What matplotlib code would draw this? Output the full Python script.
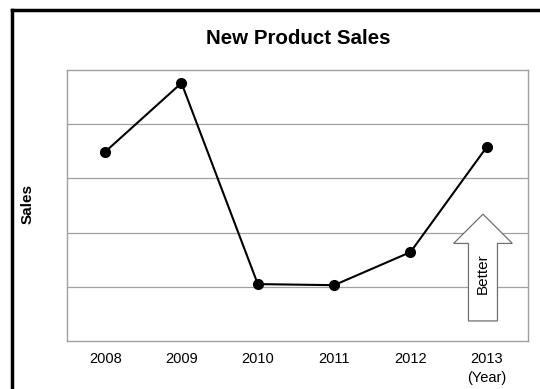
import matplotlib
matplotlib.use("Agg")
import matplotlib.pyplot as plt
import matplotlib.lines as mlines
from matplotlib.patches import FancyArrow

years = [2008, 2009, 2010, 2011, 2012, 2013]
sales = [3.49, 4.76, 1.05, 1.03, 1.64, 3.58]
tick_labels = ['2008', '2009', '2010', '2011', '2012', '2013\n(Year)']

plt.rcParams['font.family'] = ['Liberation Sans', 'DejaVu Sans']

W, H = 540, 389
fig = plt.figure(figsize=(W / 100, H / 100), dpi=100)
ax = fig.add_axes([67 / W, 1 - 341 / H, 461 / W, 271 / H])

ax.plot(years, sales, color='black', lw=1.5, marker='o', markersize=7, zorder=3)

ax.set_xlim(2007.5, 2013.54)
ax.set_ylim(0, 5)
ax.set_yticks([1, 2, 3, 4])
ax.set_yticklabels([])
ax.yaxis.grid(True, color='#a0a0a0', lw=0.9)
ax.set_xticks(years)
ax.set_xticklabels(tick_labels, fontsize=10.5, va='top', linespacing=1.4)
ax.tick_params(length=0, pad=8)
for s in ax.spines.values():
    s.set_color('#a0a0a0')
    s.set_linewidth(1.0)

# hollow "Better" arrow
arrow = FancyArrow(2012.95, 0.37, 0, 1.97, width=0.38, head_width=0.77,
                   head_length=0.54, length_includes_head=True,
                   facecolor='white', edgecolor='#707070', lw=0.9, zorder=4)
ax.add_patch(arrow)
ax.text(2012.95, 1.25, 'Better', rotation=90, ha='center', va='center',
        fontsize=11, zorder=5)

fig.text(298 / W, 1 - 39 / H, 'New Product Sales', ha='center', va='center',
         fontsize=14.8, fontweight='bold')
fig.text(28 / W, 1 - 204 / H, 'Sales', rotation=90, ha='center', va='center',
         fontsize=11, fontweight='bold')

# partial outer frame (top and left edges)
fig.add_artist(mlines.Line2D([12 / W, 1], [1 - 10 / H, 1 - 10 / H],
                             color='black', lw=2.5, transform=fig.transFigure))
fig.add_artist(mlines.Line2D([12 / W, 12 / W], [0, 1 - 10 / H],
                             color='black', lw=2.5, transform=fig.transFigure))

fig.savefig('out.png', dpi=100)
